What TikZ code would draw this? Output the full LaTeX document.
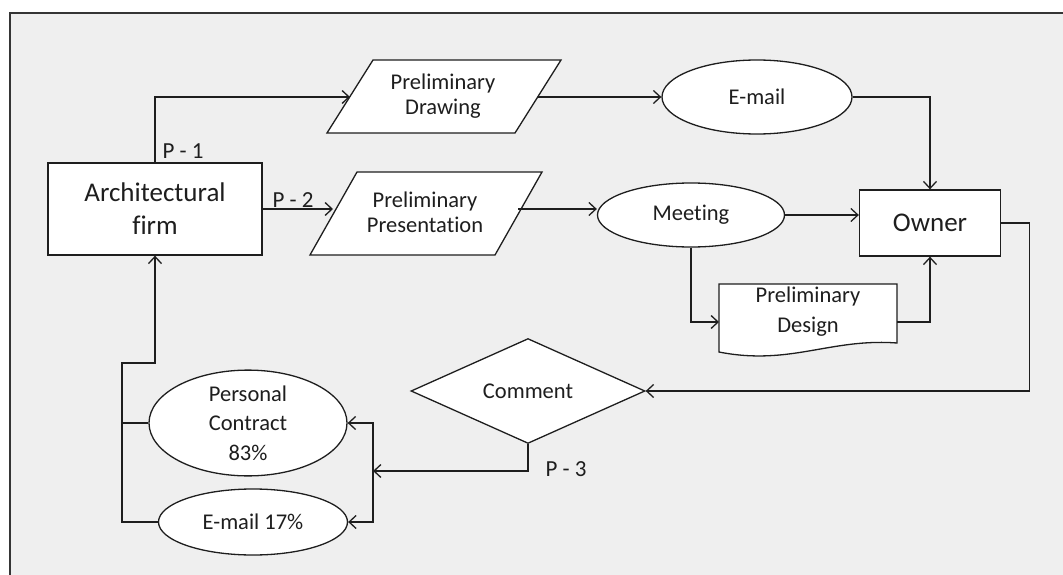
\documentclass[tikz,border=0pt]{standalone}
\usepackage{fontspec}
\setmainfont{Carlito}[Ligatures=NoCommon]
\usetikzlibrary{shapes.geometric,arrows.meta}
\definecolor{bg}{HTML}{EFEFEF}
\definecolor{ink}{HTML}{1E1E1E}
\begin{document}
\begin{tikzpicture}[x=1pt,y=-1pt,
  shp/.style={draw=ink, line width=1.3, fill=white},
  con/.style={draw=ink, line width=1.3},
  arr/.style={con, -{Straight Barb[length=7,width=13,line width=1.3]}},
  txt/.style={text=ink, align=center, inner sep=0},
  big/.style={font=\fontsize{27}{33}\selectfont},
  mid/.style={font=\fontsize{22.5}{25}\selectfont},
  lbl/.style={txt, font=\fontsize{23}{26}\selectfont},
  box/.style={shp, txt, rectangle},
  oval/.style={shp, txt, ellipse},
]
% canvas and frame
\useasboundingbox (0,0) rectangle (1063,575);
\fill[white] (0,0) rectangle (1063,575);
\fill[bg] (10,13) rectangle (1063,575);
\draw[ink!90, line width=1.8] (10,575) -- (10,13) -- (1063,13);

% main boxes
\node[box, big, minimum width=214, minimum height=92] (firm) at (155,209) {Architectural\\firm};
\node[box, big, minimum width=141, minimum height=66] (owner) at (930,223) {Owner};

% parallelograms (inputs)
\draw[shp] (373,60) -- (561,60) -- (515,133) -- (327,133) -- cycle;
\node[txt, mid] (pd) at (443,96) {Preliminary\\Drawing};
\coordinate (pdw) at (350,97);
\coordinate (pde) at (538,97);

\draw[shp] (357,172) -- (542,172) -- (495,255) -- (310,255) -- cycle;
\node[txt, mid] (pp) at (425,212) {Preliminary\\Presentation};
\coordinate (ppw) at (333,209);
\coordinate (ppe) at (518,209);

% ellipses
\node[oval, mid, minimum width=190, minimum height=74] (email) at (757,97) {E-mail};
\node[oval, mid, minimum width=187, minimum height=64] (meeting) at (691,215) {Meeting};
\node[oval, font=\fontsize{22.5}{29.5}\selectfont, minimum width=198, minimum height=94] (contract) at (248,423) {Personal\\Contract\\83\%};
\node[oval, mid, minimum width=189, minimum height=66] (email17) at (253,522) {E-mail 17\%};

% document shape
\draw[shp] (719,284) -- (897,284) -- (897,343)
  .. controls (830,338) and (790,366) .. (719,352) -- cycle;
\node[txt, font=\fontsize{22.5}{30}\selectfont] (design) at (808,312) {Preliminary\\Design};
\coordinate (dw) at (719,322);
\coordinate (de) at (897,322);

% decision
\node[shp, txt, diamond, mid, minimum width=234, minimum height=84] (comment) at (528,391) {Comment};

% labels
\node[lbl] (p1) at (183,151) {P - 1};
\node[lbl] (p2) at (293,200) {P - 2};
\node[lbl] (p3) at (566,469) {P - 3};

% junction points
\coordinate (jr) at (373,471);
\coordinate (jl) at (122,363);

% connectors
\draw[arr] (firm.north) |- (pdw);
\draw[arr] (firm.east |- ppw) -- (ppw);
\draw[arr] (pde) -- (email.west |- pde);
\draw[arr] (email.east) -| (owner.north);
\draw[arr] (ppe) -- (meeting.west |- ppe);
\draw[arr] (meeting.east) -- (meeting.east -| owner.west);
\draw[arr] (meeting.south) |- (dw);
\draw[arr] (de) -| (owner.south);
\draw[arr] (owner.east) -- ++(28,0) |- (comment.east);
\draw[arr] (comment.south) |- (jr);
\draw[arr] (jr) |- (contract.east);
\draw[arr] (jr) |- (email17.east);
\draw[con] (contract.west) -- (contract.west -| jl);
\draw[arr] (email17.west) -| (jl) -| (firm.south);
\end{tikzpicture}
\end{document}
